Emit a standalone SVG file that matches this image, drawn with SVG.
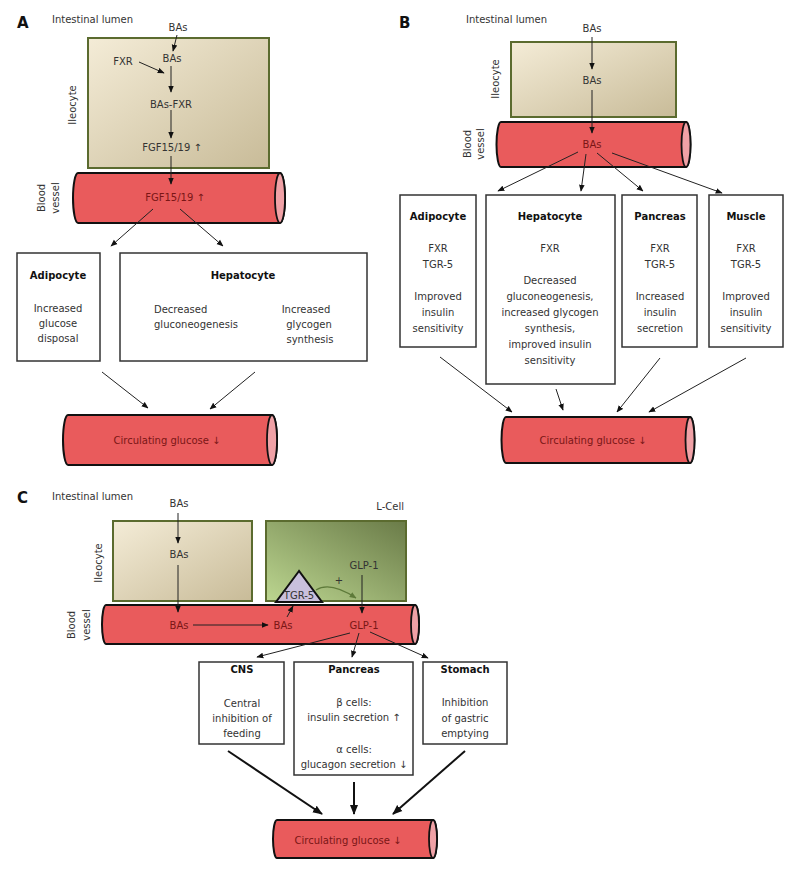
<svg xmlns="http://www.w3.org/2000/svg" width="800" height="871" viewBox="0 0 800 871">
<defs>
<linearGradient id="ileo" x1="0" y1="0" x2="1" y2="1">
<stop offset="0" stop-color="#f4ecd7"/><stop offset="1" stop-color="#c8bb98"/>
</linearGradient>
<linearGradient id="lcell" x1="0" y1="1" x2="1" y2="0">
<stop offset="0" stop-color="#bcd690"/><stop offset="1" stop-color="#6a7b48"/>
</linearGradient>
<marker id="ah" viewBox="0 0 10 10" refX="9" refY="5" markerWidth="7" markerHeight="7" markerUnits="userSpaceOnUse" orient="auto">
<path d="M0,1 L10,5 L0,9 Z" fill="#111"/>
</marker>
<marker id="ahb" viewBox="0 0 10 10" refX="9" refY="5" markerWidth="10" markerHeight="10" markerUnits="userSpaceOnUse" orient="auto">
<path d="M0,1 L10,5 L0,9 Z" fill="#111"/>
</marker>
<marker id="ahg" viewBox="0 0 10 10" refX="9" refY="5" markerWidth="7" markerHeight="7" markerUnits="userSpaceOnUse" orient="auto">
<path d="M0,1 L10,5 L0,9 Z" fill="#5e7a3a"/>
</marker>
</defs>
<style>
text{font-family:"DejaVu Sans","Liberation Sans",sans-serif;font-size:10px;fill:#333}
.c{text-anchor:middle}
.b{font-weight:bold;fill:#111}
.L{font-weight:bold;font-size:15px;fill:#111}
.v{fill:#7a1616}
.cell{stroke:#5b6b2f;stroke-width:2}
.box{fill:#fff;stroke:#333;stroke-width:1.5}
.vessel{fill:#e95b5c;stroke:#111;stroke-width:2}
.vend{fill:#f0a1a6;stroke:#111;stroke-width:1.8}
.ln{stroke:#222;stroke-width:1;fill:none;marker-end:url(#ah)}
.tk{stroke:#111;stroke-width:2;fill:none;marker-end:url(#ahb)}
</style>

<!-- ================= Panel A ================= -->
<g id="panelA-labels">
<text class="L" x="17" y="28">A</text>
<text x="52" y="23">Intestinal lumen</text>
<text class="c" x="178" y="31">BAs</text>
<text class="c" transform="translate(76,105) rotate(-90)">Ileocyte</text>
<text class="c" transform="translate(45,198) rotate(-90)">Blood</text>
<text class="c" transform="translate(59,198) rotate(-90)">vessel</text>
</g>
<g id="A-ileocyte">
<rect class="cell" x="88" y="38" width="181" height="130" fill="url(#ileo)"/>
<text class="c" x="123" y="64.5">FXR</text>
<text class="c" x="172" y="61.5">BAs</text>
<text class="c" x="171" y="107.5">BAs-FXR</text>
<text class="c" x="172" y="150.5">FGF15/19 ↑</text>
</g>
<g id="A-vessel">
<path class="vessel" d="M78,173 L280,173 A5,25 0 0 1 280,223 L78,223 A5,25 0 0 1 78,173 Z"/>
<ellipse class="vend" cx="280" cy="198" rx="5" ry="25"/>
<text class="c v" x="175" y="201">FGF15/19 ↑</text>
</g>
<g id="A-adipocyte">
<rect class="box" x="17" y="253" width="83" height="108"/>
<text class="c b" x="58" y="279">Adipocyte</text>
<text class="c" x="58" y="312">Increased</text>
<text class="c" x="58" y="327">glucose</text>
<text class="c" x="58" y="342">disposal</text>
</g>
<g id="A-hepatocyte">
<rect class="box" x="120" y="253" width="247" height="108"/>
<text class="c b" x="243" y="279">Hepatocyte</text>
<text x="154" y="313">Decreased</text>
<text x="154" y="328">gluconeogenesis</text>
<text class="c" x="306" y="313">Increased</text>
<text class="c" x="309" y="328">glycogen</text>
<text class="c" x="310" y="343">synthesis</text>
</g>
<g id="A-glucose">
<path class="vessel" d="M68,415 L272,415 A5,25 0 0 1 272,465 L68,465 A5,25 0 0 1 68,415 Z"/>
<ellipse class="vend" cx="272" cy="440" rx="5" ry="25"/>
<text class="c v" x="167" y="444">Circulating glucose ↓</text>
</g>
<g id="A-connectors">
<line class="ln" x1="177" y1="35" x2="173" y2="51"/>
<line class="ln" x1="139" y1="62" x2="164" y2="73"/>
<line class="ln" x1="171" y1="66" x2="171" y2="92"/>
<line class="ln" x1="171" y1="110" x2="171" y2="138"/>
<line class="ln" x1="171" y1="156" x2="171" y2="184"/>
<line class="ln" x1="153" y1="209" x2="111" y2="246"/>
<line class="ln" x1="180" y1="209" x2="223" y2="246"/>
<line class="ln" x1="102" y1="372" x2="148" y2="408"/>
<line class="ln" x1="255" y1="372" x2="210" y2="409"/>
</g>

<!-- ================= Panel B ================= -->
<g id="panelB-labels">
<text class="L" x="399" y="28">B</text>
<text x="466" y="23">Intestinal lumen</text>
<text class="c" x="592" y="31.5">BAs</text>
<text class="c" transform="translate(499,79) rotate(-90)">Ileocyte</text>
<text class="c" transform="translate(471,144) rotate(-90)">Blood</text>
<text class="c" transform="translate(484,144) rotate(-90)">vessel</text>
</g>
<g id="B-ileocyte">
<rect class="cell" x="511" y="42" width="165" height="75" fill="url(#ileo)"/>
<text class="c" x="592" y="84">BAs</text>
</g>
<g id="B-vessel">
<path class="vessel" d="M501,122 L686,122 A4.5,22.5 0 0 1 686,167 L501,167 A4.5,22.5 0 0 1 501,122 Z"/>
<ellipse class="vend" cx="686" cy="144.5" rx="4.5" ry="22.5"/>
<text class="c v" x="592" y="148">BAs</text>
</g>
<g id="B-adipocyte">
<rect class="box" x="400" y="195" width="76" height="152"/>
<text class="c b" x="438" y="220">Adipocyte</text>
<text class="c" x="438" y="252">FXR</text>
<text class="c" x="438" y="268">TGR-5</text>
<text class="c" x="438" y="300">Improved</text>
<text class="c" x="438" y="316">insulin</text>
<text class="c" x="438" y="332">sensitivity</text>
</g>
<g id="B-hepatocyte">
<rect class="box" x="486" y="195" width="129" height="189"/>
<text class="c b" x="550" y="220">Hepatocyte</text>
<text class="c" x="550" y="252">FXR</text>
<text class="c" x="550" y="284">Decreased</text>
<text class="c" x="550" y="300">gluconeogenesis,</text>
<text class="c" x="550" y="316">increased glycogen</text>
<text class="c" x="550" y="332">synthesis,</text>
<text class="c" x="550" y="348">improved insulin</text>
<text class="c" x="550" y="364">sensitivity</text>
</g>
<g id="B-pancreas">
<rect class="box" x="622" y="195" width="75" height="152"/>
<text class="c b" x="660" y="220">Pancreas</text>
<text class="c" x="660" y="252">FXR</text>
<text class="c" x="660" y="268">TGR-5</text>
<text class="c" x="660" y="300">Increased</text>
<text class="c" x="660" y="316">insulin</text>
<text class="c" x="660" y="332">secretion</text>
</g>
<g id="B-muscle">
<rect class="box" x="709" y="195" width="74" height="152"/>
<text class="c b" x="746" y="220">Muscle</text>
<text class="c" x="746" y="252">FXR</text>
<text class="c" x="746" y="268">TGR-5</text>
<text class="c" x="746" y="300">Improved</text>
<text class="c" x="746" y="316">insulin</text>
<text class="c" x="746" y="332">sensitivity</text>
</g>
<g id="B-glucose">
<path class="vessel" d="M506,417 L690,417 A4.5,23 0 0 1 690,463 L506,463 A4.5,23 0 0 1 506,417 Z"/>
<ellipse class="vend" cx="690" cy="440" rx="4.5" ry="23"/>
<text class="c v" x="593" y="444">Circulating glucose ↓</text>
</g>
<g id="B-connectors">
<line class="ln" x1="592" y1="37" x2="592" y2="69"/>
<line class="ln" x1="592" y1="90" x2="592" y2="133"/>
<line class="ln" x1="578" y1="152" x2="498" y2="191"/>
<line class="ln" x1="586" y1="154" x2="581" y2="191"/>
<line class="ln" x1="597" y1="153" x2="643" y2="191"/>
<line class="ln" x1="612" y1="153" x2="722" y2="193"/>
<line class="ln" x1="440" y1="357" x2="512" y2="412"/>
<line class="ln" x1="556" y1="389" x2="563" y2="410"/>
<line class="ln" x1="660" y1="358" x2="617" y2="412"/>
<line class="ln" x1="746" y1="358" x2="649" y2="412"/>
</g>

<!-- ================= Panel C ================= -->
<g id="panelC-labels">
<text class="L" x="17" y="503">C</text>
<text x="52" y="500">Intestinal lumen</text>
<text class="c" x="179" y="507">BAs</text>
<text x="404" y="510" text-anchor="end">L-Cell</text>
<text class="c" transform="translate(102,563) rotate(-90)">Ileocyte</text>
<text class="c" transform="translate(75,625) rotate(-90)">Blood</text>
<text class="c" transform="translate(90,625) rotate(-90)">vessel</text>
</g>
<g id="C-ileocyte">
<rect class="cell" x="113" y="521" width="139" height="80" fill="url(#ileo)"/>
<text class="c" x="179" y="558">BAs</text>
</g>
<g id="C-lcell">
<rect class="cell" x="266" y="521" width="140" height="80" fill="url(#lcell)"/>
<text class="c" x="364" y="569">GLP-1</text>
</g>
<g id="C-vessel">
<path class="vessel" d="M106,605 L415,605 A4,19.5 0 0 1 415,644 L106,644 A4,19.5 0 0 1 106,605 Z"/>
<ellipse class="vend" cx="415" cy="624.5" rx="4" ry="19.5"/>
<text class="c v" x="179" y="629">BAs</text>
<text class="c v" x="283" y="629">BAs</text>
<text class="c v" x="364" y="629">GLP-1</text>
</g>
<g id="C-tgr5">
<polygon points="299,571 276,602 322,602" fill="#c9c0dc" stroke="#111" stroke-width="2" stroke-linejoin="miter"/>
<text class="c" x="299" y="599" style="fill:#333">TGR-5</text>
</g>
<g id="C-cns">
<rect class="box" x="199" y="662" width="85" height="82"/>
<text class="c b" x="242" y="673">CNS</text>
<text class="c" x="242" y="707">Central</text>
<text class="c" x="242" y="722">inhibition of</text>
<text class="c" x="242" y="737">feeding</text>
</g>
<g id="C-pancreas">
<rect class="box" x="294" y="662" width="119" height="113"/>
<text class="c b" x="354" y="673">Pancreas</text>
<text class="c" x="354" y="706">β cells:</text>
<text class="c" x="354" y="721">insulin secretion ↑</text>
<text class="c" x="354" y="753">α cells:</text>
<text class="c" x="354" y="768">glucagon secretion ↓</text>
</g>
<g id="C-stomach">
<rect class="box" x="423" y="662" width="84" height="82"/>
<text class="c b" x="465" y="673">Stomach</text>
<text class="c" x="465" y="706">Inhibition</text>
<text class="c" x="465" y="722">of gastric</text>
<text class="c" x="465" y="737">emptying</text>
</g>
<g id="C-glucose">
<path class="vessel" d="M277,820 L433,820 A4,19 0 0 1 433,858 L277,858 A4,19 0 0 1 277,820 Z"/>
<ellipse class="vend" cx="433" cy="839" rx="4" ry="19"/>
<text class="c v" x="348" y="844">Circulating glucose ↓</text>
</g>
<g id="C-connectors">
<line class="ln" x1="178" y1="513" x2="178" y2="543"/>
<line class="ln" x1="178" y1="565" x2="178" y2="612"/>
<line class="ln" x1="362" y1="575" x2="362" y2="613"/>
<line class="ln" x1="193" y1="625" x2="268" y2="625"/>
<line class="ln" x1="287" y1="617" x2="293" y2="606"/>
<path d="M316,590 Q330,581 356,598" fill="none" stroke="#5e7a3a" stroke-width="1.2" marker-end="url(#ahg)"/>
<text class="c" x="339" y="584" style="fill:#333">+</text>
<line class="ln" x1="350" y1="633" x2="257" y2="657"/>
<line class="ln" x1="359" y1="633" x2="352" y2="657"/>
<line class="ln" x1="370" y1="632" x2="428" y2="658"/>
<line class="tk" x1="228" y1="751" x2="322" y2="814"/>
<line class="tk" x1="354" y1="782" x2="354" y2="814"/>
<line class="tk" x1="465" y1="751" x2="393" y2="814"/>
</g>
</svg>
